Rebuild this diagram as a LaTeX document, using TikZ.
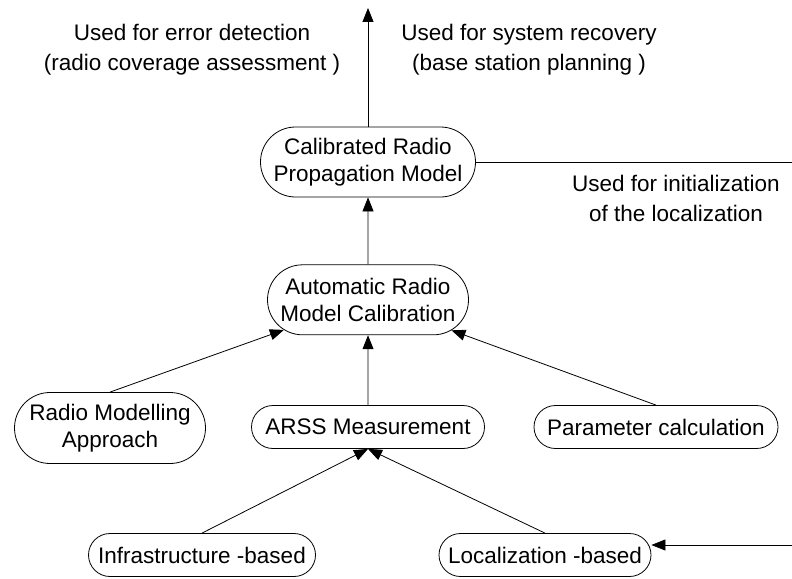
\documentclass[tikz,border=0pt]{standalone}
\usepackage{fontspec}
\setmainfont{Liberation Sans}
\usetikzlibrary{arrows.meta,positioning,shapes.misc}
\tikzset{
  pill/.style={draw, rounded rectangle, minimum height=43pt, align=center, line width=0.8pt, inner sep=2pt, font=\fontsize{22.5}{27}\selectfont},
  tpill/.style={pill, minimum height=70pt},
  lbl/.style={align=center, inner sep=0pt, font=\fontsize{22.5}{30}\selectfont},
  arr/.style={-{Triangle[length=14pt, width=11pt]}, line width=0.8pt},
  ln/.style={line width=0.8pt},
}
\begin{document}
\begin{tikzpicture}[x=1pt, y=1pt]
\useasboundingbox (0,0) rectangle (792,-578);

\node[tpill, minimum width=219pt] (cal) at (368,-162) {Calibrated Radio\\Propagation Model};
\node[tpill, minimum width=205pt, below=67pt of cal] (auto) {Automatic Radio\\Model Calibration};

\node[tpill, minimum width=195pt, minimum height=71pt] (radio) at (110,-428) {Radio Modelling\\Approach};
\node[pill, minimum width=237pt] (arss) at (368,-427) {ARSS Measurement};
\node[pill, minimum width=248pt] (param) at (656,-427) {Parameter calculation};

\node[pill, minimum width=231pt] (infra) at (202,-555) {Infrastructure -based};
\node[pill, minimum width=216pt] (loc) at (545,-555) {Localization -based};

% labels of the outputs
\node[lbl] (lblerr) at (192,-50) {Used for error detection\\(radio coverage assessment )};
\node[lbl] (lblrec) at (529,-50) {Used for system recovery\\(base station planning )};
\node[lbl] (lblinit) at (676,-198) {Used for initialization\\of the localization};

\coordinate (top) at (368,-8);
\coordinate (rout) at (792,-161);
\coordinate (rin) at (792,-545);

\draw[arr] (cal) -- (top);
\draw[ln] (cal.east) -- (cal.east -| rout);
\draw[arr] (auto) -- (cal);
\draw[arr] (radio.north) -- (auto);
\draw[arr] (arss) -- (auto);
\draw[arr] (param.north) -- (auto);
\draw[arr] (infra.north) -- (arss.south);
\draw[arr] (loc.north) -- (arss.south);
\draw[arr] (rin) -- (rin -| loc.east);

\end{tikzpicture}
\end{document}
